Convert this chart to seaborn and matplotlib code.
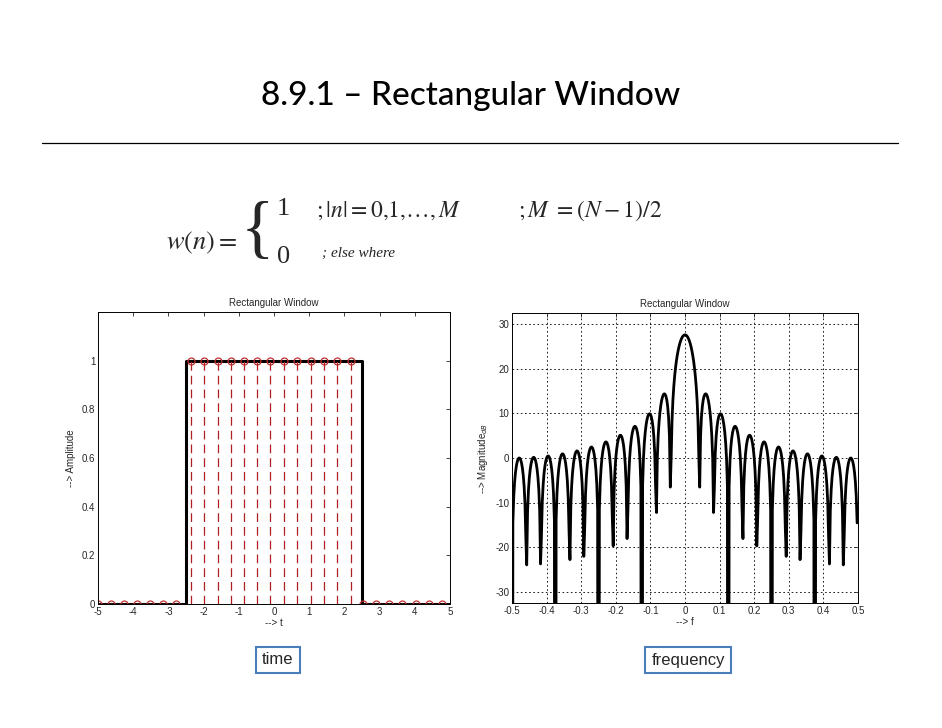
import numpy as np
import matplotlib
matplotlib.use("Agg")
import matplotlib.pyplot as plt
import seaborn as sns
import pandas as pd

# ---- data ----
t_zero_left = [-5.0, -4.63, -4.26, -3.89, -3.52, -3.15, -2.78]
t_ones = [-2.35, -1.98, -1.6, -1.22, -0.85, -0.47, -0.1, 0.28, 0.66, 1.04, 1.42, 1.8, 2.18]
t_zero_right = [2.52, 2.89, 3.27, 3.64, 4.02, 4.4, 4.77]
rect_t = [-5, -2.5, -2.5, 2.5, 2.5, 5]
rect_amp = [0, 0, 1, 1, 0, 0]
window_samples = [1, 1, 1, 1, 1, 1, 1, 1, 1, 1, 1, 1, 1, 1, 1, 1, 1, 1, 1, 1, 1, 1, 1, 1]
left_yticks = [0, 0.2, 0.4, 0.6, 0.8, 1]
left_yticklabels = ["0", "0.2", "0.4", "0.6", "0.8", "1"]
right_xticks = [-0.5, -0.4, -0.3, -0.2, -0.1, 0, 0.1, 0.2, 0.3, 0.4, 0.5]
right_yticks = [-30, -20, -10, 0, 10, 20, 30]

sns.set_style("white")
plt.rcParams['font.family'] = ['Liberation Sans', 'DejaVu Sans']
plt.rcParams['axes.unicode_minus'] = False
plt.rcParams['xtick.direction'] = 'in'
plt.rcParams['ytick.direction'] = 'in'

fig = plt.figure(figsize=(9.42, 7.28), dpi=100)

# title & rule
fig.text(0.5, 0.868, "8.9.1 – Rectangular Window", ha="center", va="center",
         fontsize=24, color="black", family=["Lato", "DejaVu Sans"], fontweight="medium")
fig.add_artist(plt.Line2D([42/942, 898/942], [1-143/728, 1-143/728], color="black", lw=0.9))

# equation
serif = ["Liberation Serif", "DejaVu Serif"]
fig.text(166/942, 1-243/728, r"$w(n) =$", fontsize=19, va="center", math_fontfamily="stix")
fig.text(241/942, 1-233/728, "{", fontsize=50, va="center", family=serif)
fig.text(277/942, 1-209/728, "1", fontsize=19, va="center", family=serif)
fig.text(277/942, 1-257/728, "0", fontsize=19, va="center", family=serif)
fig.text(316/942, 1-211/728, r"$;|n| = 0{,}1{,}\ldots{,}\,M$", fontsize=17, va="center",
         math_fontfamily="stix")
fig.text(518/942, 1-211/728, r"$;M\ = (N-1)/2$", fontsize=17, va="center",
         math_fontfamily="stix")
fig.text(322/942, 1-253/728, "; else where", fontsize=11, va="center", style="italic",
         family=serif)

# left plot
ax1 = fig.add_axes([98/942, 1-604/728, 352/942, 292/728])
ax1.plot(rect_t, rect_amp, color="black", lw=2.2)
mk = dict(marker="o", mfc="none", mec="#c03030", ms=5, mew=0.9)
ax1.plot(t_zero_left, [0]*len(t_zero_left), color="#c03030", lw=0.9, **mk)
ax1.plot(t_zero_right, [0]*len(t_zero_right), color="#c03030", lw=0.9, **mk)
for tt in t_ones:
    ax1.plot([tt, tt], [0, 1], color="#b02020", lw=0.9, ls=(0, (7, 4)))
ax1.plot(t_ones, [1]*len(t_ones), ls="none", **mk)
ax1.set_xlim(-5, 5)
ax1.set_ylim(0, 1.2)
ax1.set_xticks(range(-5, 6))
ax1.set_yticks(left_yticks)
ax1.set_yticklabels(left_yticklabels)
ax1.set_title("Rectangular Window", fontsize=7, pad=4)
ax1.set_xlabel("--> t", fontsize=7, labelpad=1)
ax1.set_ylabel("--> Amplitude", fontsize=7)

# right plot
nfft = 400
W = np.fft.fftshift(np.fft.fft(np.array(window_samples, float), nfft))
f = np.fft.fftshift(np.fft.fftfreq(nfft))
mag = 20*np.log10(np.abs(W) + 1e-12)
df = pd.DataFrame({"f": f, "mag": mag})
ax2 = fig.add_axes([512/942, 1-603/728, 346/942, 290/728])
sns.lineplot(data=df, x="f", y="mag", ax=ax2, color="black", lw=2.0, sort=False)
ax2.set_xlim(-0.5, 0.5)
ax2.set_ylim(-32.5, 32.5)
ax2.set_xticks(right_xticks)
ax2.set_xticklabels([f"{v:g}" for v in right_xticks])
ax2.set_yticks(right_yticks)
ax2.grid(True, color="black", ls=(0, (2, 3)), lw=0.6)
ax2.set_title("Rectangular Window", fontsize=7, pad=4)
ax2.set_xlabel("--> f", fontsize=7, labelpad=1)
ax2.set_ylabel(r"--> Magnitude$_{dB}$", fontsize=7)

for ax in (ax1, ax2):
    ax.tick_params(labelsize=7, top=True, right=True, length=3, width=0.6, pad=2)
    for s in ax.spines.values():
        s.set_color("black"); s.set_linewidth(0.7)

# labelled boxes
box = dict(boxstyle="square,pad=0.35", fc="white", ec="#4a7ebb", lw=1.5)
fig.text(278/942, 1-660/728, "time", ha="center", va="center", fontsize=12, bbox=box)
fig.text(688/942, 1-660/728, "frequency", ha="center", va="center", fontsize=12, bbox=box)

fig.savefig("out.png", dpi=100)
